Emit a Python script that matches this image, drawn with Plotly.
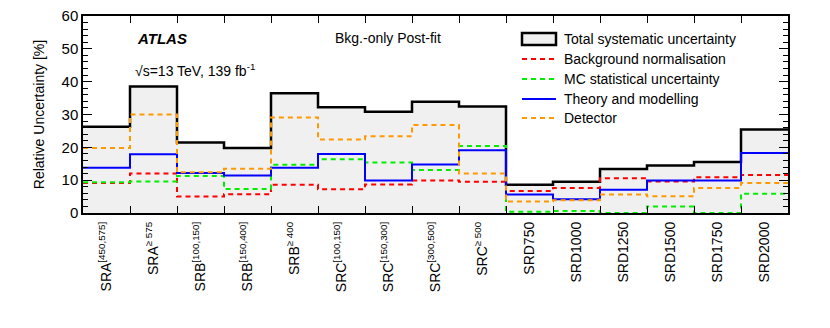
import plotly.graph_objects as go

categories = ["SRA<sup>[450,575]</sup>", "SRA<sup>≥ 575</sup>", "SRB<sup>[100,150]</sup>",
              "SRB<sup>[150,400]</sup>", "SRB<sup>≥ 400</sup>", "SRC<sup>[100,150]</sup>",
              "SRC<sup>[150,300]</sup>", "SRC<sup>[300,500]</sup>", "SRC<sup>≥ 500</sup>",
              "SRD750", "SRD1000", "SRD1250", "SRD1500", "SRD1750", "SRD2000"]
total = [26.3, 38.5, 21.5, 19.8, 36.5, 32.2, 30.8, 33.9, 32.4, 8.6, 9.5, 13.4, 14.5, 15.5, 25.4]
bkg_norm = [9.1, 12.0, 5.0, 5.7, 8.6, 7.2, 8.7, 9.9, 9.5, 6.7, 7.6, 10.6, 9.6, 10.9, 11.6]
mc_stat = [9.4, 9.6, 11.3, 7.3, 14.7, 16.4, 15.4, 13.1, 20.4, 0.4, 0.6, 0.0, 2.0, 0.0, 5.9]
theory = [13.8, 17.9, 12.2, 11.4, 13.8, 18.0, 9.9, 14.8, 19.1, 5.6, 4.2, 7.1, 9.9, 9.9, 18.3]
detector = [19.8, 30.0, 12.4, 13.5, 29.1, 22.4, 23.4, 26.8, 12.0, 3.5, 3.9, 5.6, 5.1, 7.6, 9.1]
y_ticks = [0, 10, 20, 30, 40, 50, 60]

FONT = "Liberation Sans, Arial, Helvetica, sans-serif"
n = len(categories)
edges = list(range(n + 1))
centers = [i + 0.5 for i in range(n)]

def step(vals):
    return vals + [vals[-1]]

fig = go.Figure()
fig.add_trace(go.Scatter(x=edges, y=step(total), mode="lines", line_shape="hv",
                         line=dict(color="black", width=2.5), fill="tozeroy",
                         fillcolor="#f0f0f0", showlegend=False))
series = [(bkg_norm, "#ff0000", "dash"), (mc_stat, "#00ee00", "dash"),
          (theory, "#0000ff", "solid"), (detector, "#ff9900", "dash")]
for vals, col, dash in series:
    fig.add_trace(go.Scatter(x=edges, y=step(vals), mode="lines", line_shape="hv",
                             line=dict(color=col, width=2, dash=dash if dash == "solid" else "5px,4px"),
                             showlegend=False))
# invisible trace carrying the label axis (labels at bin centres)
fig.add_trace(go.Scatter(x=centers, y=[0] * n, xaxis="x2", mode="markers",
                         marker=dict(opacity=0), showlegend=False, hoverinfo="skip"))

X0, X1, Y0, Y1 = 83, 788, 16, 213
def px(x): return (x - X0) / (X1 - X0)
def py(y): return (Y1 - y) / (Y1 - Y0)

fig.update_layout(
    width=830, height=328,
    margin=dict(l=X0, r=830 - X1, t=Y0, b=328 - Y1, autoexpand=False),
    plot_bgcolor="white", paper_bgcolor="white",
    font=dict(family=FONT, color="black", size=14),
    showlegend=False,
)
# main x axis: ticks at bin edges, top and bottom, no labels
fig.update_layout(xaxis=dict(range=[0, n], tickmode="array", tickvals=edges, ticks="inside",
                             ticklen=7, tickwidth=1.2, tickcolor="black", showticklabels=False,
                             showgrid=False, zeroline=False, automargin=False,
                             showline=True, linecolor="black", linewidth=1.5, mirror="ticks"))
# label axis: labels at bin centres
fig.update_layout(xaxis2=dict(overlaying="x", side="bottom", range=[0, n], tickmode="array",
                              tickvals=centers, ticktext=categories, tickangle=-90,
                              ticks="", ticklen=0, showline=False, showgrid=False,
                              zeroline=False, automargin=False, ticklabelstandoff=5,
                              tickfont=dict(size=14, family=FONT)))
fig.update_yaxes(range=[0, 60], tickmode="array", tickvals=y_ticks, ticks="inside", ticklen=9,
                 tickcolor="black", showgrid=False, zeroline=False, showline=True,
                 linecolor="black", automargin=False,
                 linewidth=1.5, mirror="ticks", tickfont=dict(size=15, family=FONT),
                 title=dict(text="Relative Uncertainty [%]", font=dict(size=14, family=FONT), standoff=14),
                 minor=dict(dtick=2, ticks="inside", ticklen=5, tickcolor="black", showgrid=False))

anns = [
    dict(x=px(135), y=py(38), text="<b><i>ATLAS</i></b>", font=dict(size=15)),
    dict(x=px(333), y=py(38), text="Bkg.-only Post-fit", font=dict(size=14)),
    dict(x=px(133), y=py(70), text="√s=13 TeV, 139 fb<sup>-1</sup>", font=dict(size=14)),
]
leg_labels = ["Total systematic uncertainty", "Background normalisation",
              "MC statistical uncertainty", "Theory and modelling", "Detector"]
leg_y = [39, 59, 79, 99, 118]
for lab, yy in zip(leg_labels, leg_y):
    anns.append(dict(x=px(562), y=py(yy), text=lab, font=dict(size=14)))
for a in anns:
    a.update(xref="paper", yref="paper", xanchor="left", yanchor="middle", showarrow=False)
fig.update_layout(annotations=anns)

shapes = [dict(type="rect", xref="paper", yref="paper", x0=px(522), x1=px(556), y0=py(45), y1=py(33),
               fillcolor="#f0f0f0", line=dict(color="black", width=2.5))]
for (vals, col, dash), yy in zip(series, leg_y[1:]):
    shapes.append(dict(type="line", xref="paper", yref="paper", x0=px(522), x1=px(556),
                       y0=py(yy), y1=py(yy),
                       line=dict(color=col, width=2, dash=dash if dash == "solid" else "5px,4px")))
fig.update_layout(shapes=shapes)

fig.write_html("out.html", config={"displayModeBar": False},
               post_script="document.body.style.margin='0';document.body.style.padding='0';")
